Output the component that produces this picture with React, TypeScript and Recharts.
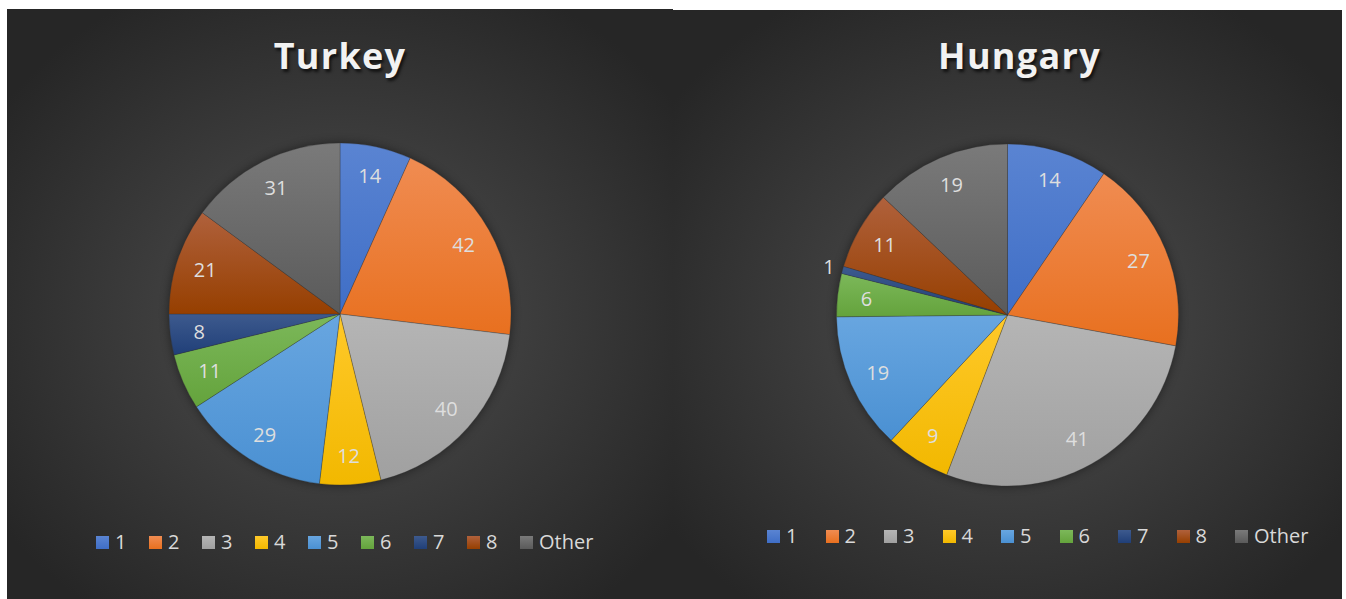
import { Cell, Legend, Pie, PieChart } from "recharts";

const categories = ["1", "2", "3", "4", "5", "6", "7", "8", "Other"];
const turkeyValues = [14, 42, 40, 12, 29, 11, 8, 21, 31];
const hungaryValues = [14, 27, 41, 9, 19, 6, 1, 11, 19];

// base colours plus a lighter tint for the top of each slice
const baseColors = ["#3f6ec6", "#e8701f", "#a0a0a0", "#f2b800", "#4a90d2", "#64a33c", "#203f78", "#963f00", "#5a5a5a"];
const topColors = ["#5a84d2", "#f08c52", "#b5b5b5", "#ffc92a", "#68a6e0", "#7cb85a", "#3d5a8e", "#b0613c", "#7a7a7a"];

const FONT = '"Open Sans", "Noto Sans", sans-serif';
const RAD = Math.PI / 180;

type SliceRow = { name: string; value: number };

function buildRows(values: number[]): SliceRow[] {
  return categories.map((name, i) => ({ name, value: values[i] }));
}

function renderLabel(props: any) {
  const { cx, cy, midAngle, outerRadius, percent, value } = props;
  const outside = percent < 0.02;
  const r = outside ? outerRadius + 14 : outerRadius * 0.83;
  const x = cx + r * Math.cos(-midAngle * RAD);
  const y = cy + r * Math.sin(-midAngle * RAD);
  return (
    <text
      x={x}
      y={y}
      fill="#dedede"
      fontSize={20}
      fontFamily={FONT}
      textAnchor="middle"
      dominantBaseline="central"
    >
      {value}
    </text>
  );
}

function makeLegend(itemWidth: number) {
  return () => (
    <div style={{ display: "flex", alignItems: "center", fontFamily: FONT, fontSize: 20, color: "#d9d9d9" }}>
      {categories.map((name, i) => (
        <div
          key={name}
          style={{ display: "flex", alignItems: "center", width: i < categories.length - 1 ? itemWidth : "auto" }}
        >
          <span
            style={{
              display: "inline-block",
              width: 13,
              height: 13,
              marginRight: 6,
              background: `linear-gradient(${topColors[i]}, ${baseColors[i]})`,
            }}
          />
          <span style={{ lineHeight: "24px" }}>{name}</span>
        </div>
      ))}
    </div>
  );
}

type PanelProps = {
  id: string;
  title: string;
  values: number[];
  left: number;
  top: number;
  width: number;
  height: number;
  cx: number;
  cy: number;
  titleTop: number;
  titleShift: number;
  legendLeft: number;
  legendTop: number;
  legendItemWidth: number;
};

function PiePanel(p: PanelProps) {
  const data = buildRows(p.values);
  return (
    <div
      style={{
        position: "absolute",
        left: p.left,
        top: p.top,
        width: p.width,
        height: p.height,
        background: "radial-gradient(ellipse 62% 62% at 50% 52%, #4b4b4b 0%, #3d3d3d 45%, #262626 100%)",
      }}
    >
      <div
        style={{
          position: "absolute",
          left: p.titleShift,
          top: p.titleTop,
          width: "100%",
          textAlign: "center",
          fontFamily: FONT,
          fontWeight: 700,
          fontSize: 36,
          lineHeight: "36px",
          letterSpacing: 1.3,
          color: "#f2f2f2",
          textShadow: "2px 3px 3px rgba(0,0,0,0.65)",
        }}
      >
        {p.title}
      </div>
      <PieChart
        width={p.width}
        height={p.height}
        margin={{ top: 0, right: 0, bottom: 0, left: 0 }}
        style={{ position: "absolute", left: 0, top: 0 }}
      >
        <defs>
          {baseColors.map((c, i) => (
            <linearGradient key={i} id={`${p.id}-g${i}`} x1="0" y1="0" x2="0" y2="1">
              <stop offset="0%" stopColor={topColors[i]} />
              <stop offset="100%" stopColor={c} />
            </linearGradient>
          ))}
        </defs>
        <Pie
          data={data}
          dataKey="value"
          nameKey="name"
          cx={p.cx}
          cy={p.cy}
          outerRadius={171}
          startAngle={90}
          endAngle={-270}
          stroke="rgba(50,50,50,0.5)"
          strokeWidth={0.6}
          label={renderLabel}
          labelLine={false}
          isAnimationActive={false}
        >
          {data.map((row, i) => (
            <Cell key={row.name} fill={`url(#${p.id}-g${i})`} />
          ))}
        </Pie>
        <Legend
          content={makeLegend(p.legendItemWidth)}
          wrapperStyle={{ position: "absolute", left: p.legendLeft, top: p.legendTop, width: "auto", bottom: "auto" }}
        />
      </PieChart>
    </div>
  );
}

export default function App() {
  return (
    <div style={{ position: "absolute", left: 0, top: 0, width: 1346, height: 599, background: "#ffffff", overflow: "hidden" }}>
      <style>{`.recharts-pie { filter: drop-shadow(0 0 5px rgba(0,0,0,0.45)); }`}</style>
      <PiePanel
        id="tr"
        title="Turkey"
        values={turkeyValues}
        left={7}
        top={9}
        width={666}
        height={590}
        cx={333}
        cy={305}
        titleTop={29}
        titleShift={0}
        legendLeft={89}
        legendTop={521}
        legendItemWidth={53}
      />
      <PiePanel
        id="hu"
        title="Hungary"
        values={hungaryValues}
        left={673}
        top={10}
        width={669}
        height={589}
        cx={334.5}
        cy={305}
        titleTop={28}
        titleShift={12}
        legendLeft={94}
        legendTop={514}
        legendItemWidth={58.5}
      />
    </div>
  );
}
